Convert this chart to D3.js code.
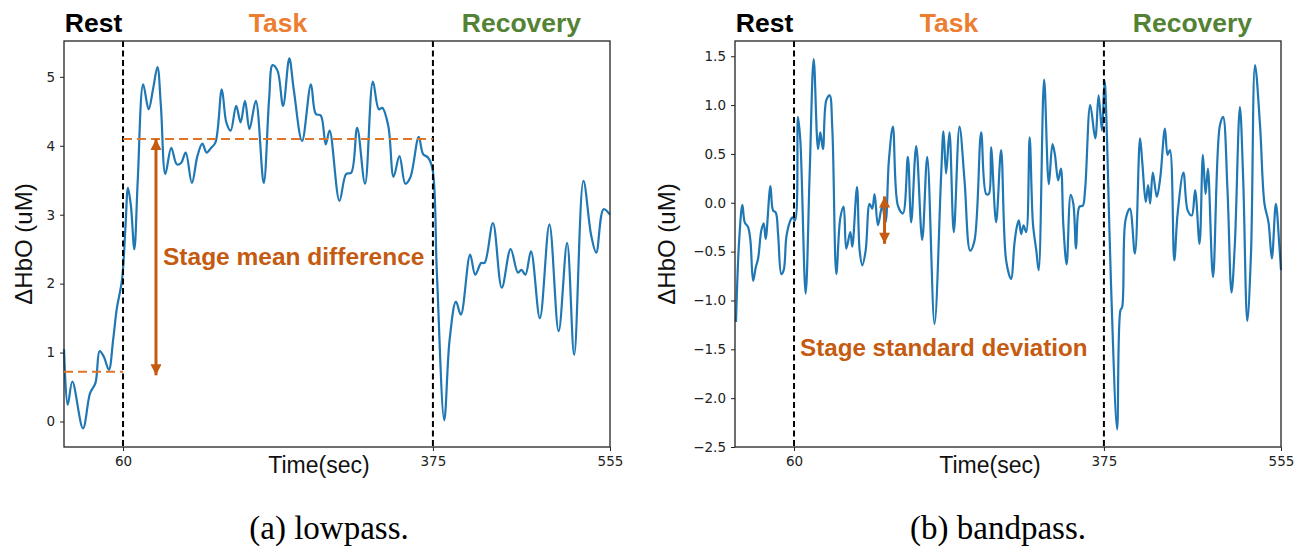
<!DOCTYPE html>
<html>
<head>
<meta charset="utf-8">
<script src="https://cdn.jsdelivr.net/npm/d3@7"></script>
<style>
  body { margin: 0; background: #fff; }
  svg { display: block; }
  .tick text { font-family: "DejaVu Sans", sans-serif; font-size: 13.5px; fill: #222; }
  .domain, .tick line { stroke: #222; }
  .sans { font-family: "Liberation Sans", Arial, sans-serif; }
  .serif { font-family: "Liberation Serif", "Times New Roman", Times, "Nimbus Roman", serif; }
</style>
</head>
<body>
<div id="chart"></div>
<script>
// time (sec), delta HbO (uM)
var lowpassSeries = [
  [0,1.05],[3.8,0.24],[8.5,0.58],[19.3,-0.1],[26.5,0.41],[32,0.56],[36.2,1.02],[40.5,0.94],[45.6,0.75],
  [50,1.19],[53.5,1.62],[59,2.06],[62.5,2.83],[65,3.39],[68,3.13],[71.5,2.5],[75,3.51],[80.5,4.89],
  [86,4.53],[90.5,4.82],[95,5.14],[98.5,4.58],[103,3.59],[109,3.97],[114.7,3.73],[119,3.75],[123.7,3.9],
  [130,3.46],[135.6,3.85],[140.6,4.03],[145,3.9],[149.5,3.97],[154,4.05],[160.4,4.82],[165,4.34],
  [169.4,4.22],[175,4.58],[179.5,4.34],[184,4.65],[188.5,4.24],[195,4.65],[203,3.46],[208.5,4.68],
  [212,5.17],[217,5.09],[222.7,4.58],[229,5.27],[233.5,4.82],[242,4.07],[251,4.89],[256,4.46],
  [261,4.44],[266,4.02],[270,4.22],[280,3.2],[286.8,3.59],[292,3.61],[298,4.26],[306,3.45],[314,4.93],
  [320,4.53],[323.5,4.55],[329.6,4.29],[335,3.55],[341,3.85],[347,3.45],[352,3.54],[360.6,4.13],
  [365,3.88],[370,3.83],[374.6,3.66],[379,2.16],[386.5,0.02],[392,1.19],[398.4,1.74],[403.4,1.55],
  [412.8,2.42],[418,2.13],[424,2.3],[427.5,2.3],[436,2.88],[445,1.94],[454,2.5],[461.4,2.16],[465,2.2],
  [469,2.13],[474.7,2.47],[483.7,1.5],[493.4,2.86],[502.8,1.31],[511.4,2.59],[518.6,0.97],[528,3.49],
  [536,2.69],[541,2.45],[548.5,3.08],[555,3.0]
];

var bandpassSeries = [
  [1,-1.22],[4.2,-0.39],[7.5,-0.02],[9.9,-0.2],[13.3,-0.25],[15.7,-0.39],[18.4,-0.8],[21.1,-0.66],
  [23.5,-0.57],[26.8,-0.28],[29.2,-0.21],[31.2,-0.37],[36,0.17],[38.7,-0.08],[41.4,-0.1],[43.8,-0.32],
  [47.1,-0.73],[49.5,-0.69],[52.2,-0.35],[55.6,-0.2],[58.3,-0.15],[61,-0.18],[64,0.88],[66.4,0.64],
  [71.8,-0.93],[75.9,0.3],[80,1.47],[84.4,0.55],[86.7,0.72],[89.4,0.55],[92.8,1.05],[96.2,1.1],
  [98.9,0.76],[103,-0.73],[107,-0.16],[110.4,-0.04],[113.1,-0.47],[117.2,-0.3],[119.2,-0.45],[124,0.16],
  [126.7,-0.49],[129.4,-0.64],[132.8,-0.49],[136.8,-0.01],[139.5,-0.06],[141.9,0.09],[145.3,-0.23],
  [149.7,-0.03],[153,-0.2],[156.4,0.43],[160.5,0.78],[165.6,-0.03],[170.7,-0.11],[175.7,0.47],
  [179.1,-0.2],[184.2,0.58],[190.3,-0.38],[195.4,0.47],[202.8,-1.24],[209.6,0.3],[211.9,0.73],
  [214.6,0.3],[218,0.72],[222.4,-0.3],[228.2,0.78],[233.3,0.23],[239,-0.49],[243.4,-0.39],[250.2,0.72],
  [255.3,0.09],[258,0.09],[260.3,0.57],[265.4,-0.2],[270.5,0.54],[275.6,-0.59],[280.6,-0.78],[284,-0.42],
  [286.4,-0.25],[288.5,-0.18],[290.9,-0.32],[293.3,-0.23],[296,-0.3],[299.5,0.67],[302.9,-0.22],
  [306.3,-0.49],[308.7,-0.69],[314.2,1.26],[319,0.19],[322.7,0.6],[325.1,0.5],[328.5,0.23],[331.3,0.35],
  [333.7,-0.22],[337.1,-0.63],[341.2,0.08],[343.9,-0.01],[346.7,-0.47],[350.1,-0.04],[353.5,-0.03],
  [355.9,0.14],[361.1,1.0],[366.2,0.66],[369.6,1.1],[373,0.74],[375.7,1.25],[378.1,0.67],[382.2,-0.83],
  [388.4,-2.32],[391.8,-1.1],[393.5,-1.07],[396.9,-0.18],[401.4,-0.06],[406.5,-0.52],[411.7,0.66],
  [414.1,0.4],[417.5,0.01],[419.9,0.18],[422,-0.01],[424.7,0.31],[428.8,0.06],[432.2,0.25],[437,0.76],
  [439.7,0.49],[442.1,0.54],[446.5,-0.59],[449.9,-0.11],[455.8,0.31],[460.2,-0.08],[464.3,-0.13],
  [467.7,0.13],[472.2,-0.42],[475.6,0.49],[478.3,0.09],[480.7,0.35],[485.9,-0.76],[492.7,0.78],
  [496.1,0.88],[500.6,0.13],[504.7,-0.92],[508.1,-0.42],[513.2,0.98],[516.6,0.23],[520.7,-1.21],
  [524.5,-0.52],[528.6,1.41],[533.7,0.79],[538.2,-0.01],[542.3,-0.2],[545.7,-0.57],[549.8,-0.01],
  [553.2,-0.42],[555,-0.69]
];

var stageBounds = [60, 375];
var xTicks = [60, 375, 555];
var stageNames = ["Rest", "Task", "Recovery"];
var stageMid = [30, 217.5, 465];
var stageColors = ["#000000", "#ED7D31", "#548235"];
var lowpassTicks = [0, 1, 2, 3, 4, 5];
var bandpassTicks = [-2.5, -2.0, -1.5, -1.0, -0.5, 0.0, 0.5, 1.0, 1.5];
// stage means used for the dashed lines (lowpass)
var restMean = 0.72, taskMean = 4.1;

var W = 1307, H = 547;
var svg = d3.select("#chart").append("svg").attr("width", W).attr("height", H);

var defs = svg.append("defs");
defs.append("marker")
  .attr("id", "head")
  .attr("markerUnits", "userSpaceOnUse")
  .attr("viewBox", "0 0 10 10")
  .attr("refX", 10).attr("refY", 5)
  .attr("markerWidth", 12).attr("markerHeight", 11)
  .attr("orient", "auto-start-reverse")
  .append("path")
  .attr("d", "M0,0 L10,5 L0,10 z")
  .attr("fill", "#C55A11");

function drawPanel(opt) {
  var x = d3.scaleLinear().domain([0, 555]).range([opt.left, opt.right]);
  var y = d3.scaleLinear().domain(opt.yDomain).range([447, 41]);
  var g = svg.append("g");

  // curve
  var line = d3.line()
    .x(function (d) { return x(d[0]); })
    .y(function (d) { return y(d[1]); })
    .curve(d3.curveCatmullRom.alpha(0.5));
  g.append("path")
    .datum(opt.series)
    .attr("fill", "none")
    .attr("stroke", "#1f77b4")
    .attr("stroke-width", 2.2)
    .attr("stroke-linejoin", "round")
    .attr("d", line);

  // stage boundaries
  g.selectAll(".bound").data(stageBounds).enter().append("line")
    .attr("x1", function (d) { return x(d); })
    .attr("x2", function (d) { return x(d); })
    .attr("y1", 41).attr("y2", 447)
    .attr("stroke", "#000").attr("stroke-width", 2)
    .attr("stroke-dasharray", "6,3.5");

  // axes
  var xAxis = d3.axisBottom(x).tickValues(xTicks).tickSize(4).tickPadding(5).tickFormat(d3.format("d"));
  var yAxis = d3.axisLeft(y).tickValues(opt.yTicks).tickSize(4).tickPadding(5).tickFormat(opt.fmt);
  g.append("g").attr("transform", "translate(0,447)").call(xAxis);
  g.append("g").attr("transform", "translate(" + opt.left + ",0)").call(yAxis);
  g.selectAll(".domain").remove();
  g.append("rect")
    .attr("x", opt.left).attr("y", 41)
    .attr("width", opt.right - opt.left).attr("height", 406)
    .attr("fill", "none").attr("stroke", "#222").attr("stroke-width", 1.3);

  // stage titles
  g.selectAll(".stage").data(stageNames).enter().append("text")
    .attr("class", "sans")
    .attr("x", function (d, i) { return x(stageMid[i]); })
    .attr("y", 32)
    .attr("text-anchor", "middle")
    .attr("font-weight", "bold")
    .attr("font-size", 26.5)
    .attr("fill", function (d, i) { return stageColors[i]; })
    .text(function (d) { return d; });

  // axis titles
  g.append("text")
    .attr("class", "sans")
    .attr("x", opt.xLabelX).attr("y", 473)
    .attr("text-anchor", "middle")
    .attr("font-size", 23)
    .attr("fill", "#111")
    .text("Time(sec)");
  g.append("text")
    .attr("class", "sans")
    .attr("transform", "translate(" + opt.yLabelX + ",244) rotate(-90)")
    .attr("text-anchor", "middle")
    .attr("font-size", 24)
    .attr("fill", "#111")
    .text("ΔHbO (uM)");

  // caption
  g.append("text")
    .attr("class", "serif")
    .attr("x", opt.capX).attr("y", 539)
    .attr("text-anchor", "middle")
    .attr("font-size", 33)
    .attr("fill", "#000")
    .text(opt.caption);

  return { g: g, x: x, y: y };
}

var left = drawPanel({
  left: 64, right: 610, yDomain: [-0.37, 5.52], yTicks: lowpassTicks, fmt: d3.format("d"),
  series: lowpassSeries, xLabelX: 319, yLabelX: 32, capX: 329, caption: "(a)  lowpass."
});
var right = drawPanel({
  left: 735, right: 1281, yDomain: [-2.5, 1.656], yTicks: bandpassTicks, fmt: d3.format(".1f"),
  series: bandpassSeries, xLabelX: 990, yLabelX: 675, capX: 998, caption: "(b)  bandpass."
});

// stage-mean dashed lines and arrow (lowpass)
var meanLines = [[0, 60, restMean], [60, 375, taskMean]];
left.g.selectAll(".mean").data(meanLines).enter().append("line")
  .attr("x1", function (d) { return left.x(d[0]); })
  .attr("x2", function (d) { return left.x(d[1]); })
  .attr("y1", function (d) { return left.y(d[2]); })
  .attr("y2", function (d) { return left.y(d[2]); })
  .attr("stroke", "#E07428").attr("stroke-width", 2)
  .attr("stroke-dasharray", "9,5");

left.g.append("line")
  .attr("x1", left.x(93.5)).attr("x2", left.x(93.5))
  .attr("y1", left.y(taskMean)).attr("y2", left.y(restMean - 0.05))
  .attr("stroke", "#C55A11").attr("stroke-width", 3)
  .attr("marker-start", "url(#head)").attr("marker-end", "url(#head)");

left.g.append("text")
  .attr("class", "sans")
  .attr("x", 163).attr("y", 265)
  .attr("font-weight", "bold").attr("font-size", 24.5)
  .attr("fill", "#C55A11")
  .text("Stage mean difference");

// std arrow (bandpass)
right.g.append("line")
  .attr("x1", right.x(152)).attr("x2", right.x(152))
  .attr("y1", right.y(0.065)).attr("y2", right.y(-0.42))
  .attr("stroke", "#C55A11").attr("stroke-width", 3)
  .attr("marker-start", "url(#head)").attr("marker-end", "url(#head)");

right.g.append("text")
  .attr("class", "sans")
  .attr("x", 800).attr("y", 356)
  .attr("font-weight", "bold").attr("font-size", 24.2)
  .attr("fill", "#C55A11")
  .text("Stage standard deviation");
</script>
</body>
</html>
